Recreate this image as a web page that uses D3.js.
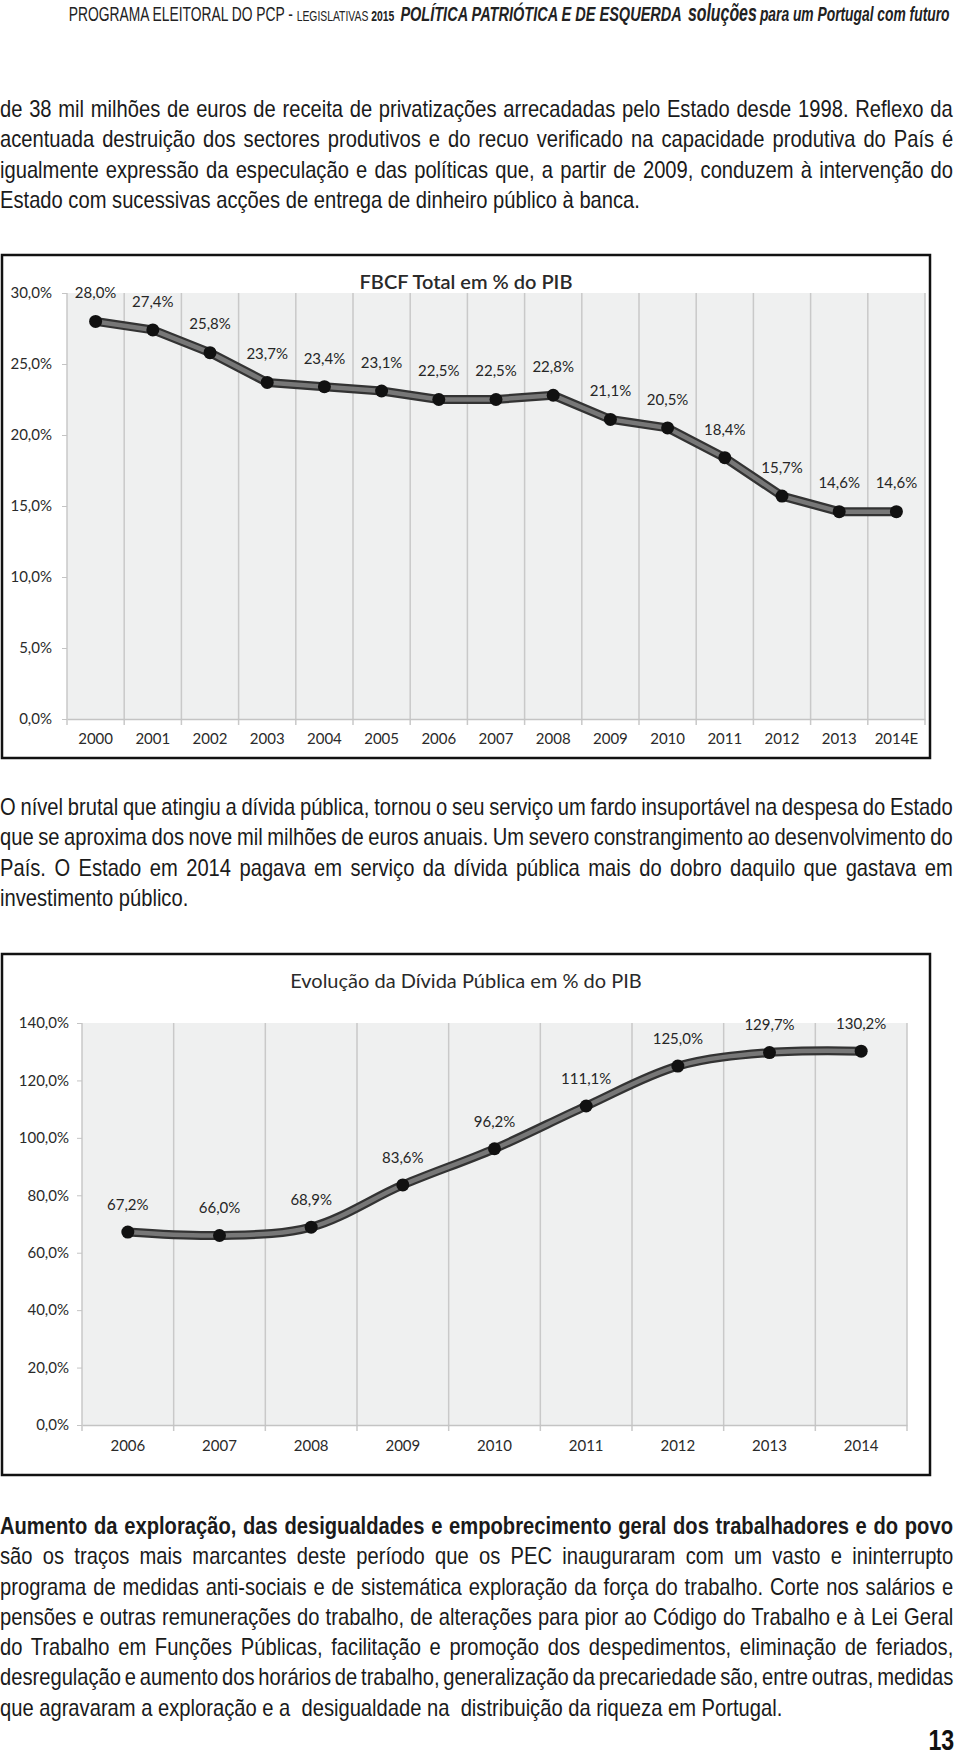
<!DOCTYPE html>
<html>
<head>
<meta charset="utf-8">
<script src="https://cdn.jsdelivr.net/npm/d3@7"></script>
<style>
  body { margin: 0; background: #fff; }
  #page { position: relative; width: 960px; height: 1756px; overflow: hidden; }
  .txt { position: absolute; left: 0; font-family: "Liberation Sans", Arial, sans-serif; font-size: 24px; color: #1a1a1a; }
  .txt div { height: 30.3px; line-height: 30.3px; white-space: pre; transform-origin: 0 0; }
  .txt div.b { font-weight: bold; }
  .txt span { white-space: pre; }
  #header { position: absolute; right: 10px; top: 0px; font-family: "Liberation Sans", Arial, sans-serif; color: #222; white-space: nowrap; transform-origin: 100% 0; }
  #pagenum { position: absolute; right: 6px; top: 1724px; font-family: "Liberation Sans", Arial, sans-serif; font-weight: bold; font-size: 29px; color: #111; transform: scaleX(0.8); transform-origin: 100% 0; }
  svg#charts { position: absolute; left: 0; top: 0; }
</style>
</head>
<body>
<div id="page">
  <div id="header"><span style="font-size:20px">PROGRAMA ELEITORAL DO PCP - </span><span style="font-size:15px">LEGISLATIVAS </span><span style="font-size:15px;font-weight:bold">2015</span>&nbsp;&nbsp;<span style="font-size:21px;font-weight:bold;font-style:italic">POLÍTICA PATRIÓTICA E DE ESQUERDA</span>&nbsp;&nbsp;<span style="font-size:23px;font-weight:bold;font-style:italic">soluções</span> <span style="font-size:20px;font-weight:bold;font-style:italic">para um Portugal com futuro</span></div>
  <div id="p1" class="txt"></div>
  <div id="p2" class="txt"></div>
  <div id="p3" class="txt"></div>
  <div id="pagenum">13</div>
  <svg id="charts" width="960" height="1756"></svg>
</div>
<script>
// ---- data ----
const fbcfYears = ["2000","2001","2002","2003","2004","2005","2006","2007","2008","2009","2010","2011","2012","2013","2014E"];
const fbcfValues = [28.0, 27.4, 25.8, 23.7, 23.4, 23.1, 22.5, 22.5, 22.8, 21.1, 20.5, 18.4, 15.7, 14.6, 14.6];
const fbcfTicks = [0, 5, 10, 15, 20, 25, 30];

const debtYears = ["2006","2007","2008","2009","2010","2011","2012","2013","2014"];
const debtValues = [67.2, 66.0, 68.9, 83.6, 96.2, 111.1, 125.0, 129.7, 130.2];
const debtTicks = [0, 20, 40, 60, 80, 100, 120, 140];

const para1 = [
  "de 38 mil milhões de euros de receita de privatizações arrecadadas pelo Estado desde 1998. Reflexo da",
  "acentuada destruição dos sectores produtivos e do recuo verificado na capacidade produtiva do País é",
  "igualmente expressão da especulação e das políticas que, a partir de 2009, conduzem à intervenção do",
  "Estado com sucessivas acções de entrega de dinheiro público à banca."
];
const para2 = [
  "O nível brutal que atingiu a dívida pública, tornou o seu serviço um fardo insuportável na despesa do Estado",
  "que se aproxima dos nove mil milhões de euros anuais. Um severo constrangimento ao desenvolvimento do",
  "País. O Estado em 2014 pagava em serviço da dívida pública mais do dobro daquilo que gastava em",
  "investimento público."
];
const para3 = [
  "Aumento da exploração, das desigualdades e empobrecimento geral dos trabalhadores e do povo",
  "são os traços mais marcantes deste período que os PEC inauguraram com um vasto e ininterrupto",
  "programa de medidas anti-sociais e de sistemática exploração da força do trabalho. Corte nos salários e",
  "pensões e outras remunerações do trabalho, de alterações para pior ao Código do Trabalho e à Lei Geral",
  "do Trabalho em Funções Públicas, facilitação e promoção dos despedimentos, eliminação de feriados,",
  "desregulação e aumento dos horários de trabalho, generalização da precariedade são, entre outras, medidas",
  "que agravaram a exploração e a  desigualdade na  distribuição da riqueza em Portugal."
];

// ---- text blocks (condensed look: horizontal squeeze, justified by word spacing) ----
const squeeze = 0.84, textWidth = 953;
function writeParagraph(id, lines, top, boldFirst){
  const rows = d3.select(id).style("top", top + "px")
    .selectAll("div").data(lines).enter().append("div")
      .attr("class", (d, i) => boldFirst && i === 0 ? "b" : null)
      .style("transform", "scaleX(" + squeeze + ")");
  rows.append("span").text(d => d);
  rows.each(function(d, i){
    if(i === lines.length - 1) return;   // last line stays ragged
    const span = d3.select(this).select("span");
    const natural = span.node().offsetWidth;
    const gaps = d.split(" ").length - 1;
    span.style("word-spacing", ((textWidth / squeeze - natural) / gaps) + "px");
  });
}
writeParagraph("#p1", para1, 94, false);
writeParagraph("#p2", para2, 792, false);
writeParagraph("#p3", para3, 1511, true);

// header squeezed to its span in the page
const hdr = document.getElementById("header");
hdr.style.transform = "scaleX(" + (881 / hdr.offsetWidth) + ")";

// ---- charts ----
const fmt = d => d.toFixed(1).replace(".", ",") + "%";
const svg = d3.select("#charts");

function lineChart(opt){
  const g = svg.append("g");

  // frame
  g.append("rect")
    .attr("x", opt.box[0]).attr("y", opt.box[1])
    .attr("width", opt.box[2]).attr("height", opt.box[3])
    .attr("fill", "#fff").attr("stroke", "#111").attr("stroke-width", 2.5);

  const clipId = "clip" + opt.id;
  g.append("clipPath").attr("id", clipId).append("rect")
    .attr("x", opt.box[0] + 1).attr("y", opt.box[1] + 1)
    .attr("width", opt.box[2] - 2).attr("height", opt.box[3] - 2);
  const inner = g.append("g").attr("clip-path", "url(#" + clipId + ")");

  const x = d3.scaleBand().domain(opt.years).range([opt.left, opt.right]);
  const y = d3.scaleLinear().domain([0, opt.max]).range([opt.bottom, opt.top]);

  // plot background
  inner.append("rect")
    .attr("x", opt.left).attr("y", opt.top)
    .attr("width", opt.right - opt.left).attr("height", opt.bottom - opt.top)
    .attr("fill", "#eff0f0");

  // vertical grid at band edges
  const edges = opt.years.map(d => x(d)).concat([opt.right]);
  inner.append("g").selectAll("line").data(edges).enter().append("line")
    .attr("x1", d => d).attr("x2", d => d)
    .attr("y1", opt.top).attr("y2", opt.bottom + 6)
    .attr("stroke", "#c9c9c9").attr("stroke-width", 1.5);

  // y axis
  const ya = inner.append("g").attr("transform", "translate(" + opt.left + ",0)")
    .call(d3.axisLeft(y).tickValues(opt.ticks).tickSize(5).tickPadding(opt.tickPad).tickFormat(fmt));
  ya.select(".domain").remove();
  ya.selectAll(".tick line").attr("stroke", "#c4c4c4");
  ya.selectAll(".tick text").attr("fill", "#2a2a2a").style("font-family", "Lato, sans-serif").style("font-size", "15px");

  // x axis
  const xa = inner.append("g").attr("transform", "translate(0," + opt.bottom + ")")
    .call(d3.axisBottom(x).tickSize(0).tickPadding(opt.xPad));
  xa.select(".domain").attr("stroke", "#c4c4c4").attr("stroke-width", 1.5);
  xa.selectAll(".tick text").attr("fill", "#2a2a2a").style("font-family", "Lato, sans-serif").style("font-size", "15px");

  // title
  inner.append("text")
    .attr("x", opt.box[0] + opt.box[2] / 2).attr("y", opt.titleY)
    .attr("text-anchor", "middle").attr("dominant-baseline", "middle")
    .attr("fill", "#2a2a2a").style("font-family", "Lato, sans-serif")
    .style("font-size", "20px").style("font-weight", opt.titleWeight)
    .text(opt.title);

  // series
  const pts = opt.years.map((d, i) => [x(d) + x.bandwidth() / 2, y(opt.values[i])]);
  const line = d3.line().curve(opt.curve);
  inner.append("path").attr("d", line(pts))
    .attr("fill", "none").attr("stroke", "#333").attr("stroke-width", 9).attr("stroke-linejoin", "round");
  inner.append("path").attr("d", line(pts))
    .attr("fill", "none").attr("stroke", "#777").attr("stroke-width", 4.5).attr("stroke-linejoin", "round");
  inner.append("g").selectAll("circle").data(pts).enter().append("circle")
    .attr("cx", d => d[0]).attr("cy", d => d[1]).attr("r", 6.5).attr("fill", "#111");

  // data labels
  inner.append("g").selectAll("text").data(opt.values).enter().append("text")
    .attr("x", (d, i) => pts[i][0]).attr("y", (d, i) => pts[i][1] - opt.labelOff)
    .attr("text-anchor", "middle").attr("dominant-baseline", "middle")
    .attr("fill", "#262626").style("font-family", "Lato, sans-serif").style("font-size", "15px")
    .text(fmt);
}

lineChart({
  id: 1, box: [2, 255, 928, 503],
  years: fbcfYears, values: fbcfValues, ticks: fbcfTicks, max: 30,
  left: 67, right: 925, top: 293, bottom: 719,
  tickPad: 10, xPad: 14, labelOff: 27,
  title: "FBCF  Total em % do PIB", titleY: 284, titleWeight: 600,
  curve: d3.curveLinear
});

lineChart({
  id: 2, box: [2, 954, 928, 521],
  years: debtYears, values: debtValues, ticks: debtTicks, max: 140,
  left: 82, right: 907, top: 1023, bottom: 1425,
  tickPad: 8, xPad: 15, labelOff: 26,
  title: "Evolução da Dívida Pública em % do PIB", titleY: 983, titleWeight: 400,
  curve: d3.curveCatmullRom
});
</script>
</body>
</html>
